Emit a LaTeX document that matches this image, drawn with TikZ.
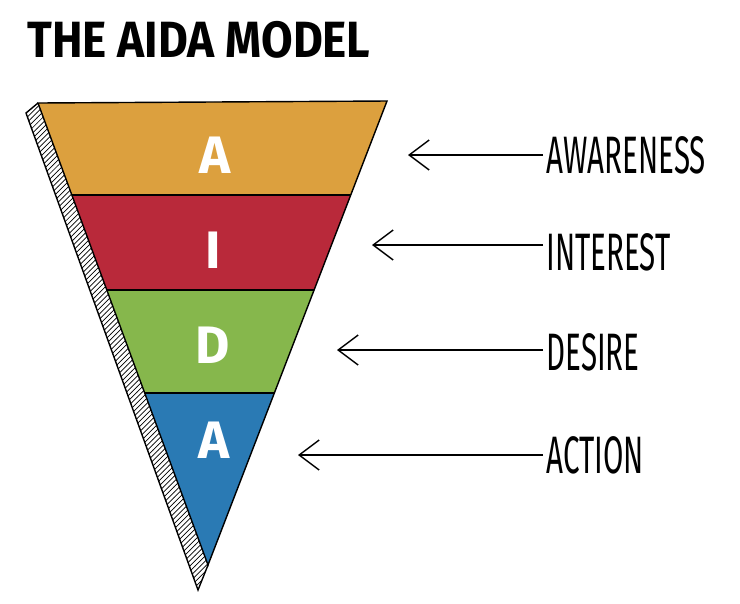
\documentclass[tikz,border=0pt]{standalone}
\usepackage{fontspec}
\setmainfont{Fira Sans}
\usetikzlibrary{positioning,calc,patterns,arrows.meta}
\definecolor{aware}{HTML}{DCA03E}
\definecolor{inter}{HTML}{B9293A}
\definecolor{desir}{HTML}{86B74C}
\definecolor{actn}{HTML}{2A7AB4}

\begin{document}
\begin{tikzpicture}[x=0.02cm,y=-0.02cm,
                    band/.style={draw=black,thick},
                    letter/.style={text=white,font=\bfseries\fontsize{30}{30}\selectfont},
                    stage/.style={anchor=west,xscale=0.56,font=\fontsize{30}{30}\selectfont},
                    pointer/.style={-{Straight Barb[length=4mm,width=6mm]},thick}
                   ]
   \useasboundingbox (0,0) rectangle (740,603);
   % title
   \node[anchor=west,xscale=0.9,font=\bfseries\fontsize{29}{29}\selectfont] (title) at (22,40) {THE AIDA MODEL};
   % funnel corners
   \coordinate (tl) at (38,103);
   \coordinate (tr) at (387,101);
   \coordinate (tip) at (208,565);
   % hatched side
   \fill[pattern=north east lines] (tl) -- (26,113) -- (198,590) -- (tip) -- cycle;
   \draw[thick] (tl) -- (26,113) -- (198,590) -- (tip);
   % bands
   \fill[aware] (tl) -- (tr) -- (351,195) -- (72,195) -- cycle;
   \fill[inter] (72,195) -- (351,195) -- (314,290) -- (107,290) -- cycle;
   \fill[desir] (107,290) -- (314,290) -- (274,393) -- (145,393) -- cycle;
   \fill[actn] (145,393) -- (274,393) -- (tip) -- cycle;
   \draw[band] (tl) -- (tr) -- (tip) -- cycle;
   \draw[band] (72,195) -- (351,195) (107,290) -- (314,290) (145,393) -- (274,393);
   % letters
   \node[letter] (la) at (215,155) {A};
   \node[letter] (li) at (213,250) {I};
   \node[letter] (ld) at (213,345) {D};
   \node[letter] (lb) at (214,440) {A};
   % stages
   \node[stage] (awareness) at (543,155) {AWARENESS};
   \node[stage] (interest) at (543,252) {INTEREST};
   \node[stage] (desire) at (543,352) {DESIRE};
   \node[stage] (action) at (543,455) {ACTION};
   \coordinate (pa) at (408,155);
   \coordinate (pi) at (372,245);
   \coordinate (pd) at (337,350);
   \coordinate (pb) at (298,455);
   \draw[pointer] (awareness.west |- pa) -- (pa);
   \draw[pointer] (interest.west |- pi) -- (pi);
   \draw[pointer] (desire.west |- pd) -- (pd);
   \draw[pointer] (action.west |- pb) -- (pb);
\end{tikzpicture}
\end{document}
